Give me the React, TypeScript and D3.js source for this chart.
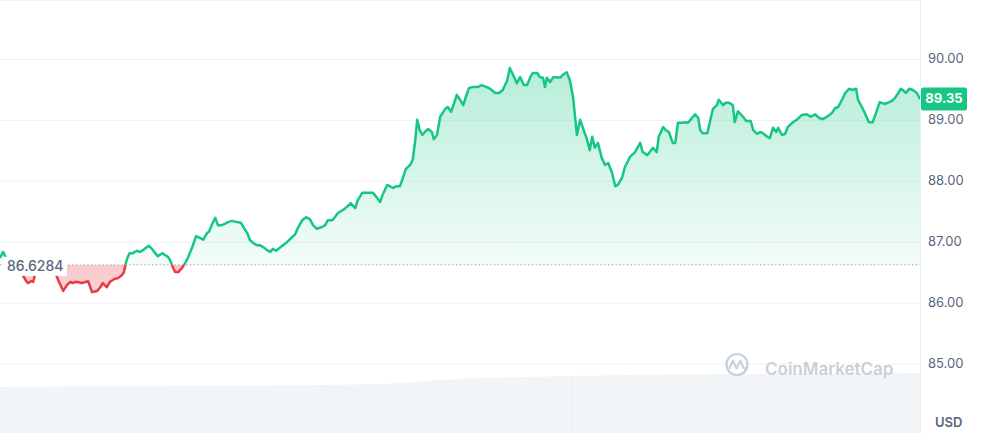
import React from 'react';
import * as d3 from 'd3';

// time offsets (minutes since start of the 24h window) and price in USD
const minutes = [
  0, 5, 13, 22, 31, 41, 44, 49, 52, 56, 66, 75, 85, 91, 99, 105, 110, 114, 119, 128,
  138, 144, 152, 157, 161, 167, 172, 180, 185, 191, 194, 197, 200, 203, 208, 214, 219, 224, 230, 233,
  238, 243, 247, 254, 258, 263, 266, 271, 274, 279, 285, 290, 294, 301, 307, 313, 318, 324, 327, 333,
  337, 341, 347, 352, 357, 363, 371, 377, 382, 387, 391, 396, 402, 407, 412, 418, 423, 427, 432, 437,
  443, 449, 454, 462, 466, 473, 479, 485, 490, 496, 504, 509, 513, 520, 524, 529, 537, 543, 549, 556,
  560, 567, 571, 576, 584, 590, 595, 599, 606, 610, 615, 621, 626, 631, 635, 642, 646, 650, 653, 657,
  661, 665, 670, 676, 679, 684, 689, 697, 701, 706, 711, 715, 720, 725, 729, 734, 740, 748, 754, 761,
  767, 775, 781, 787, 794, 798, 803, 809, 814, 820, 825, 830, 834, 841, 845, 850, 853, 856, 861, 866,
  872, 877, 881, 887, 892, 897, 903, 908, 912, 919, 923, 927, 931, 936, 942, 947, 952, 958, 963, 967,
  974, 978, 986, 994, 1002, 1006, 1013, 1017, 1022, 1028, 1031, 1038, 1042, 1047, 1053, 1057, 1061, 1067, 1072, 1077,
  1083, 1088, 1093, 1096, 1100, 1107, 1111, 1116, 1122, 1125, 1132, 1136, 1141, 1147, 1150, 1155, 1163, 1168, 1175, 1179,
  1185, 1190, 1194, 1201, 1205, 1210, 1215, 1218, 1224, 1229, 1233, 1240, 1247, 1255, 1263, 1269, 1276, 1282, 1288, 1296,
  1302, 1307, 1312, 1318, 1323, 1329, 1335, 1340, 1343, 1349, 1355, 1360, 1366, 1371, 1377, 1384, 1390, 1396, 1401, 1406,
  1410, 1413, 1418, 1423, 1429, 1435, 1440,
];

const prices = [
  86.74, 86.84, 86.66, 86.60, 86.54, 86.36, 86.33, 86.36, 86.35, 86.52, 86.57, 86.57, 86.54, 86.38, 86.20, 86.30, 86.35, 86.33, 86.35, 86.33,
  86.36, 86.18, 86.20, 86.26, 86.33, 86.26, 86.35, 86.40, 86.41, 86.46, 86.51, 86.66, 86.76, 86.82, 86.82, 86.86, 86.84, 86.87, 86.92, 86.94,
  86.89, 86.82, 86.77, 86.82, 86.79, 86.76, 86.71, 86.58, 86.51, 86.51, 86.58, 86.66, 86.74, 86.92, 87.10, 87.07, 87.04, 87.15, 87.17, 87.32,
  87.40, 87.28, 87.28, 87.30, 87.33, 87.35, 87.33, 87.32, 87.23, 87.15, 87.04, 86.99, 86.95, 86.95, 86.92, 86.87, 86.84, 86.89, 86.86, 86.90,
  86.95, 87.00, 87.05, 87.13, 87.23, 87.36, 87.41, 87.38, 87.28, 87.22, 87.25, 87.28, 87.36, 87.36, 87.41, 87.48, 87.53, 87.58, 87.64, 87.56,
  87.69, 87.81, 87.81, 87.81, 87.81, 87.73, 87.66, 87.78, 87.94, 87.92, 87.89, 87.92, 87.92, 88.07, 88.20, 88.27, 88.35, 88.68, 89.01, 88.84,
  88.76, 88.81, 88.86, 88.81, 88.69, 88.76, 89.06, 89.19, 89.22, 89.14, 89.29, 89.42, 89.34, 89.25, 89.38, 89.53, 89.55, 89.55, 89.58, 89.55,
  89.52, 89.45, 89.45, 89.50, 89.66, 89.86, 89.75, 89.61, 89.71, 89.58, 89.58, 89.71, 89.78, 89.78, 89.71, 89.70, 89.55, 89.70, 89.63, 89.71,
  89.71, 89.70, 89.75, 89.79, 89.66, 89.38, 88.76, 89.01, 88.89, 88.68, 88.51, 88.73, 88.55, 88.63, 88.38, 88.27, 88.30, 88.14, 87.92, 87.94,
  88.07, 88.23, 88.40, 88.48, 88.63, 88.48, 88.43, 88.48, 88.55, 88.48, 88.73, 88.89, 88.84, 88.81, 88.63, 88.63, 88.96, 88.96, 88.97, 88.96,
  89.04, 89.10, 89.04, 88.84, 88.79, 88.79, 88.97, 89.19, 89.25, 89.34, 89.25, 89.29, 89.29, 89.25, 88.97, 89.15, 89.06, 88.99, 88.99, 88.84,
  88.78, 88.81, 88.79, 88.73, 88.71, 88.88, 88.81, 88.88, 88.76, 88.78, 88.89, 88.96, 89.01, 89.09, 89.10, 89.06, 89.10, 89.04, 89.02, 89.07,
  89.12, 89.20, 89.22, 89.34, 89.45, 89.52, 89.50, 89.52, 89.34, 89.22, 89.09, 88.97, 88.97, 89.12, 89.30, 89.27, 89.29, 89.32, 89.37, 89.45,
  89.52, 89.50, 89.45, 89.52, 89.50, 89.45, 89.35,
];

const baselinePrice = 86.6284;
const lastPrice = 89.35;
const yTicks = [85, 86, 87, 88, 89, 90];

// volume backdrop (arbitrary units)
const volMinutes = [0, 300, 600, 689, 892, 1143, 1440];
const volumes = [46, 47, 49, 53, 57, 59, 60];

const W = 982;
const H = 433;
const PLOT_R = 920;
const GREEN = '#16c784';
const RED = '#ea3943';
const TEXT = '#58667e';
const FONT = 'Inter, "Noto Sans", sans-serif';

export default function App() {
  const x = d3.scaleLinear().domain([0, 1440]).range([0, PLOT_R]);
  const y = d3.scaleLinear().domain([85, 90]).range([364, 59.5]);
  const yv = d3.scaleLinear().domain([0, 61]).range([433, 372]);
  const yBase = y(baselinePrice);

  const data = minutes.map((m, i) => ({ m, p: prices[i] }));
  const line = d3.line<{ m: number; p: number }>().x(d => x(d.m)).y(d => y(d.p));
  const area = d3
    .area<{ m: number; p: number }>()
    .x(d => x(d.m))
    .y0(yBase)
    .y1(d => y(d.p));
  const vdata = volMinutes.map((m, i) => ({ m, v: volumes[i] }));
  const vArea = d3
    .area<{ m: number; v: number }>()
    .x(d => x(d.m))
    .y0(H)
    .y1(d => yv(d.v))
    .curve(d3.curveMonotoneX);

  const linePath = line(data) || '';
  const areaPath = area(data) || '';

  return (
    <div style={{ position: 'absolute', left: 0, top: 0 }}>
      <svg width={W} height={H} style={{ display: 'block', fontFamily: FONT }}>
        <defs>
          <clipPath id="above">
            <rect x={0} y={0} width={PLOT_R} height={yBase} />
          </clipPath>
          <clipPath id="below">
            <rect x={0} y={yBase} width={PLOT_R} height={H - yBase} />
          </clipPath>
          <linearGradient id="gFill" gradientUnits="userSpaceOnUse" x1={0} y1={y(90)} x2={0} y2={yBase}>
            <stop offset="0%" stopColor={GREEN} stopOpacity={0.32} />
            <stop offset="100%" stopColor={GREEN} stopOpacity={0.05} />
          </linearGradient>
          <linearGradient id="rFill" gradientUnits="userSpaceOnUse" x1={0} y1={yBase} x2={0} y2={y(86)}>
            <stop offset="0%" stopColor={RED} stopOpacity={0.28} />
            <stop offset="100%" stopColor={RED} stopOpacity={0.18} />
          </linearGradient>
        </defs>

        <rect x={0} y={0} width={W} height={H} fill="#ffffff" />

        {/* volume backdrop */}
        <path d={vArea(vdata) || ''} fill="#eff2f5" opacity={0.8} />
        <line x1={x(897)} x2={x(897)} y1={yv(57)} y2={H} stroke="#e9ecf1" strokeWidth={1} />

        {/* grid */}
        <line x1={0} x2={PLOT_R} y1={0.5} y2={0.5} stroke="#eff2f5" />
        {yTicks.map(t => (
          <line key={t} x1={0} x2={PLOT_R} y1={y(t)} y2={y(t)} stroke="#eff2f5" strokeWidth={1} />
        ))}
        <line x1={PLOT_R + 0.5} x2={PLOT_R + 0.5} y1={0} y2={H} stroke="#eff2f5" strokeWidth={1} />

        {/* fills */}
        <path d={areaPath} fill="url(#gFill)" clipPath="url(#above)" />
        <path d={areaPath} fill="url(#rFill)" clipPath="url(#below)" />

        {/* baseline */}
        <line
          x1={0}
          x2={PLOT_R}
          y1={yBase}
          y2={yBase}
          stroke="#9aa3b1"
          strokeWidth={1}
          strokeDasharray="1.2 2.6"
        />

        {/* price line */}
        <path d={linePath} fill="none" stroke={GREEN} strokeWidth={2.5} strokeLinejoin="round" clipPath="url(#above)" />
        <path d={linePath} fill="none" stroke={RED} strokeWidth={2.5} strokeLinejoin="round" clipPath="url(#below)" />

        {/* baseline label */}
        <rect x={3} y={yBase - 8} width={64} height={19} fill="#ffffff" />
        <text x={7} y={yBase + 2} fontSize={14} fontWeight={500} fill={TEXT} dominantBaseline="middle">
          {baselinePrice.toFixed(4)}
        </text>

        {/* watermark */}
        <g>
          <circle cx={737} cy={364.5} r={10.5} fill="none" stroke="#c9d0da" strokeWidth={2.2} />
          <path
            d="M729.5,368 L733,360.5 L736.5,368.5 L740.5,360.5 L743,367 Q744,369.5 746,367.5"
            fill="none"
            stroke="#c9d0da"
            strokeWidth={2}
            strokeLinejoin="round"
            strokeLinecap="round"
          />
          <text x={765} y={370} fontSize={17} fontWeight={600} fill="#c9d0da" dominantBaseline="middle">
            CoinMarketCap
          </text>
        </g>

        {/* y axis labels */}
        {yTicks.map(t => (
          <text key={t} x={928} y={y(t)} fontSize={13} fill={TEXT} dominantBaseline="middle">
            {t.toFixed(2)}
          </text>
        ))}
        <text x={935} y={423} fontSize={13} fontWeight={600} fill={TEXT} dominantBaseline="middle">
          USD
        </text>

        {/* current price tag */}
        <rect x={PLOT_R + 1} y={y(lastPrice) - 11.5} width={46} height={23} rx={2} fill={GREEN} />
        <text
          x={PLOT_R + 1 + 23}
          y={y(lastPrice) + 0.5}
          fontSize={13}
          fontWeight={700}
          fill="#ffffff"
          textAnchor="middle"
          dominantBaseline="middle"
        >
          {lastPrice.toFixed(2)}
        </text>
      </svg>
    </div>
  );
}
